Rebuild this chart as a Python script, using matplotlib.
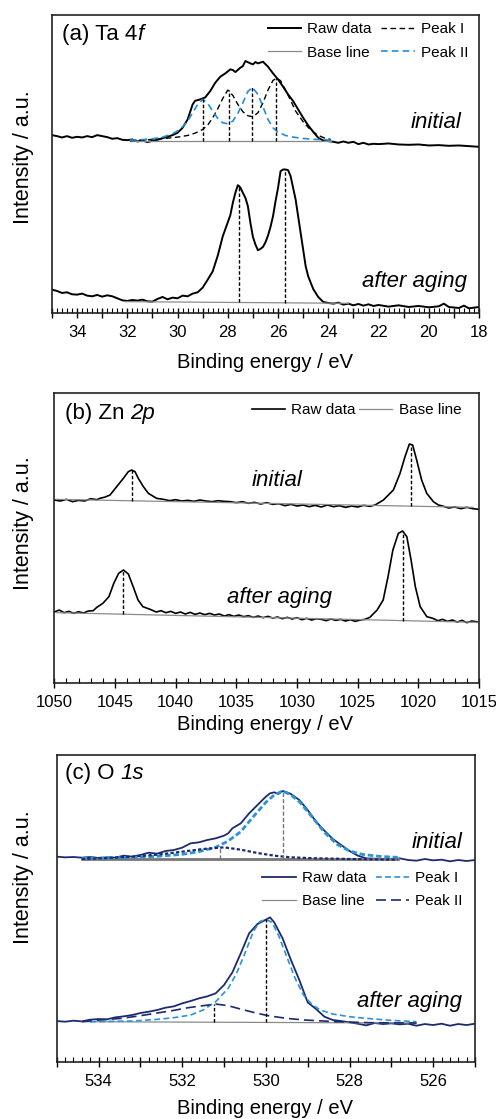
import matplotlib
matplotlib.use("Agg")
import matplotlib.pyplot as plt
from matplotlib.ticker import MultipleLocator, FuncFormatter

plt.rcParams['font.family'] = ['Liberation Sans', 'DejaVu Sans']

# ---------------- (a) Ta 4f ----------------
ta_init_e = [35.0, 34.8, 34.6, 34.4, 34.2, 34.0, 33.8, 33.6, 33.4, 33.2, 33.0, 32.8, 32.6, 32.4,
             32.2, 32.0, 31.8, 31.6, 31.4, 31.2, 31.0, 30.8, 30.6, 30.4, 30.2, 30.0, 29.8, 29.6,
             29.4, 29.3, 29.1, 28.9, 28.7, 28.5, 28.3, 28.1, 27.9, 27.8, 27.7, 27.5, 27.4, 27.3,
             27.1, 27.0, 26.9, 26.8, 26.6, 26.4, 26.2, 26.0, 25.8, 25.6, 25.4, 25.2, 25.0, 24.8,
             24.6, 24.4, 24.2, 24.0, 23.8, 23.6, 23.4, 23.2, 23.0, 22.8, 22.6, 22.4, 22.2, 22.0,
             21.6, 21.2, 20.8, 20.4, 20.0, 19.6, 19.2, 18.8, 18.4, 18.0]
ta_init_i = [533, 530, 526, 530, 525, 528, 526, 530, 527, 533, 530, 527, 522, 524,
             519, 518, 520, 514, 517, 512, 516, 519, 524, 528, 533, 540, 555, 580,
             625, 636, 640, 646, 665, 690, 708, 718, 730, 728, 722, 735, 740, 755,
             748, 745, 752, 748, 753, 738, 718, 700, 678, 655, 635, 610, 585, 562,
             543, 525, 517, 515, 513, 510, 514, 510, 513, 506, 510, 505, 507, 506,
             508, 505, 504, 505, 502, 503, 501, 502, 500, 498]

ta_peak1_e = [31.9, 31.5, 31.0, 30.5, 30.0, 29.6, 29.3, 29.0, 28.8, 28.6, 28.4, 28.2, 28.0, 27.8,
              27.6, 27.4, 27.2, 27.0, 26.8, 26.6, 26.4, 26.2, 26.05, 25.9, 25.7, 25.5, 25.3,
              25.0, 24.7, 24.4, 24.1, 23.9]
ta_peak1_i = [516, 518, 520, 523, 527, 532, 539, 550, 563, 585, 612, 643, 668, 652,
              625, 603, 591, 588, 600, 630, 668, 697, 704, 696, 668, 637, 605,
              573, 548, 532, 523, 520]
ta_peak2_e = [31.9, 31.5, 31.0, 30.6, 30.2, 29.9, 29.6, 29.4, 29.2, 29.0, 28.8, 28.6, 28.4, 28.2,
              28.0, 27.8, 27.6, 27.4, 27.2, 27.02, 26.8, 26.6, 26.4, 26.2, 26.0, 25.7, 25.4,
              25.0, 24.5, 23.9]
ta_peak2_i = [518, 519, 522, 527, 537, 550, 575, 600, 625, 640, 628, 605, 583, 570,
              567, 575, 598, 630, 664, 676, 655, 618, 580, 555, 542, 532, 527,
              523, 520, 518]
ta_init_base_e = [31.9, 23.9]
ta_init_base_i = [515, 515]
ta_init_pos = [28.97, 27.97, 27.02, 26.07]
ta_init_top = [640, 668, 676, 704]

ta_aged_e = [35.0, 34.8, 34.6, 34.4, 34.2, 34.0, 33.8, 33.6, 33.4, 33.2, 33.0, 32.8, 32.6, 32.4,
             32.2, 32.0, 31.8, 31.6, 31.4, 31.2, 31.0, 30.8, 30.6, 30.4, 30.2, 30.0, 29.8, 29.6,
             29.4, 29.2, 29.0, 28.8, 28.6, 28.4, 28.2, 28.0, 27.9, 27.8, 27.7, 27.6, 27.5, 27.4,
             27.3, 27.2, 27.1, 27.0, 26.9, 26.8, 26.7, 26.6, 26.5, 26.4, 26.3, 26.2, 26.1, 26.0,
             25.9, 25.8, 25.7, 25.6, 25.5, 25.4, 25.3, 25.2, 25.1, 25.0, 24.9, 24.8, 24.6, 24.4,
             24.2, 24.0, 23.8, 23.6, 23.4, 23.2, 23.0, 22.8, 22.6, 22.4, 22.2, 22.0, 21.6, 21.2,
             20.8, 20.4, 20.0, 19.6, 19.4, 19.2, 18.8, 18.6, 18.4, 18.0]
ta_aged_i = [70, 66, 60, 62, 56, 55, 58, 52, 50, 54, 49, 53, 50, 44,
             38, 36, 39, 37, 40, 35, 34, 42, 48, 41, 46, 44, 52, 50,
             58, 62, 76, 100, 125, 172, 230, 272, 293, 330, 360, 383, 376, 360,
             345, 320, 270, 228, 205, 188, 192, 198, 212, 232, 258, 290, 335, 375,
             425, 430, 430, 428, 410, 375, 340, 290, 240, 190, 140, 110, 72, 48,
             33, 30, 28, 31, 25, 28, 23, 27, 22, 26, 21, 24, 19, 23,
             18, 21, 17, 20, 28, 18, 15, 22, 14, 18]
ta_aged_base_e = [32.1, 23.2]
ta_aged_base_i = [34, 29]
ta_aged_pos = [27.57, 25.72]
ta_aged_top = [383, 430]
ta_aged_bot = [32, 30]

# ---------------- (b) Zn 2p ----------------
zn_init_e = [1050.0, 1049.5, 1049.0, 1048.5, 1048.0, 1047.5, 1047.0, 1046.5, 1046.24, 1045.8,
             1045.41, 1044.86, 1044.31, 1043.9, 1043.63, 1043.35, 1043.08, 1042.66, 1042.25,
             1041.57, 1041.0, 1040.5, 1040.0, 1039.5, 1039.0, 1038.5, 1038.0, 1037.5, 1037.0,
             1036.5, 1036.0, 1035.5, 1035.0, 1034.5, 1034.0, 1033.5, 1033.0, 1032.5, 1032.0,
             1031.5, 1031.0, 1030.5, 1030.0, 1029.5, 1029.0, 1028.5, 1028.0, 1027.5, 1027.0,
             1026.5, 1026.0, 1025.5, 1025.0, 1024.5, 1024.0, 1023.57, 1022.88, 1022.06,
             1021.51, 1021.1, 1020.74, 1020.47, 1020.14, 1019.73, 1019.31, 1018.76, 1018.35,
             1018.0, 1017.5, 1017.0, 1016.5, 1016.0, 1015.5, 1015.0]
zn_init_i = [548, 545, 550, 543, 547, 545, 552, 549, 553, 557,
             563, 588, 613, 633, 638, 633, 613, 588, 568,
             553, 550, 546, 549, 545, 547, 544, 548, 545, 543,
             546, 544, 543, 540, 543, 538, 541, 536, 540, 535,
             537, 531, 535, 530, 533, 528, 532, 527, 533, 528,
             531, 526, 530, 527, 532, 529, 533, 548, 578,
             628, 678, 716, 713, 668, 608, 568, 543, 533,
             530, 524, 527, 522, 526, 522, 520]
zn_init_base_e = [1049.8, 1015.5]
zn_init_base_i = [550, 526]
zn_init_pos = [1043.63, 1020.6]
zn_init_top = [638, 715]
zn_init_bot = [546, 530]

zn_aged_e = [1050.0, 1049.6, 1049.2, 1048.8, 1048.4, 1048.0, 1047.6, 1047.2, 1046.8, 1046.5,
             1046.0, 1045.5, 1045.1, 1044.7, 1044.3, 1043.9, 1043.5, 1043.1, 1042.7, 1042.1,
             1041.6, 1041.2, 1040.8, 1040.4, 1040.0, 1039.6, 1039.2, 1038.8, 1038.4, 1038.0,
             1037.6, 1037.2, 1036.8, 1036.4, 1036.0, 1035.6, 1035.2, 1034.8, 1034.4, 1034.0,
             1033.6, 1033.2, 1032.8, 1032.4, 1032.0, 1031.6, 1031.2, 1030.8, 1030.4, 1030.0,
             1029.6, 1029.2, 1028.8, 1028.4, 1028.0, 1027.6, 1027.2, 1026.8, 1026.4, 1026.0,
             1025.6, 1025.2, 1024.8, 1024.4, 1024.0, 1023.4, 1022.9, 1022.5, 1022.1, 1021.65,
             1021.3, 1020.95, 1020.6, 1020.25, 1019.85, 1019.3, 1018.8, 1018.4, 1018.0, 1017.6,
             1017.2, 1016.8, 1016.4, 1016.0, 1015.6, 1015.2, 1015.0]
zn_aged_i = [212, 218, 210, 214, 208, 213, 209, 215, 216, 226,
             238, 258, 298, 328, 338, 326, 288, 248, 228, 220,
             212, 216, 210, 214, 208, 212, 206, 211, 205, 209,
             204, 208, 203, 206, 200, 204, 199, 203, 198, 201,
             196, 200, 195, 199, 194, 197, 192, 196, 191, 195,
             189, 193, 188, 192, 190, 186, 191, 187, 190, 185,
             189, 184, 188, 190, 196, 218, 248, 318, 398, 448,
             455, 438, 368, 288, 228, 198, 193, 186, 190, 184,
             188, 182, 187, 180, 185, 183, 180]
zn_aged_base_e = [1049.8, 1015.0]
zn_aged_base_i = [210, 181]
zn_aged_pos = [1044.3, 1021.3]
zn_aged_top = [338, 455]
zn_aged_bot = [205, 186]

# ---------------- (c) O 1s ----------------
o_init_e = [535.0, 534.8, 534.6, 534.4, 534.2, 534.0, 533.8, 533.6, 533.4, 533.2, 533.0, 532.8,
            532.6, 532.4, 532.2, 532.0, 531.8, 531.6, 531.4, 531.2, 531.0, 530.9, 530.8, 530.6,
            530.4, 530.2, 530.0, 529.9, 529.8, 529.7, 529.6, 529.5, 529.4, 529.2, 529.0, 528.8,
            528.6, 528.4, 528.2, 528.0, 527.8, 527.6, 527.4, 527.2, 527.0, 526.8, 526.6, 526.4,
            526.2, 526.0, 525.8, 525.6, 525.4, 525.2, 525.0]
o_init_i = [615, 613, 614, 612, 614, 611, 613, 612, 618, 615, 620, 627,
            624, 632, 635, 642, 655, 658, 665, 670, 678, 685, 700, 715,
            745, 770, 795, 805, 808, 803, 812, 808, 803, 785, 755, 720,
            693, 668, 650, 632, 618, 610, 609, 607, 608, 610, 605, 603,
            608, 604, 606, 601, 605, 602, 605]
o_init_p1_e = [534.4, 533.8, 533.2, 532.6, 532.0, 531.6, 531.2, 530.9, 530.6, 530.3, 530.0,
               529.8, 529.6, 529.4, 529.2, 528.9, 528.6, 528.3, 528.0, 527.7, 527.3, 526.85]
o_init_p1_i = [610, 611, 613, 616, 622, 630, 643, 662, 690, 735, 778,
               800, 812, 800, 780, 735, 688, 652, 632, 622, 616, 613]
o_init_p2_e = [534.4, 533.8, 533.2, 532.6, 532.0, 531.5, 531.0, 530.6, 530.2, 529.8, 529.4,
               528.8, 528.0, 526.85]
o_init_p2_i = [608, 611, 615, 621, 630, 638, 643, 636, 626, 618, 613,
               610, 608, 606]
o_init_base_e = [534.4, 526.85]
o_init_base_i = [607, 607]
o_init_pos = [531.1, 529.6]
o_init_top = [643, 812]

o_aged_e = [535.0, 534.8, 534.6, 534.4, 534.2, 534.0, 533.8, 533.6, 533.4, 533.2, 533.0, 532.8,
            532.6, 532.4, 532.2, 532.0, 531.8, 531.6, 531.4, 531.2, 531.0, 530.8, 530.6, 530.4,
            530.2, 530.0, 529.9, 529.8, 529.6, 529.4, 529.2, 529.0, 528.8, 528.6, 528.4, 528.2,
            528.0, 527.8, 527.6, 527.4, 527.2, 527.0, 526.8, 526.6, 526.4, 526.2, 526.0, 525.8,
            525.6, 525.4, 525.2, 525.0]
o_aged_i = [122, 120, 123, 121, 126, 128, 127, 133, 136, 140, 146, 150,
            155, 162, 166, 175, 182, 190, 196, 205, 230, 268, 325, 385,
            413, 426, 433, 418, 370, 305, 245, 178, 158, 135, 125, 122,
            118, 114, 109, 116, 113, 115, 112, 114, 108, 113, 110, 114,
            108, 113, 110, 114]
o_aged_p1_e = [534.2, 533.2, 532.6, 532.2, 531.8, 531.5, 531.2, 530.9, 530.7, 530.5, 530.3,
               530.15, 530.0, 529.85, 529.7, 529.5, 529.3, 529.1, 528.9, 528.7, 528.4, 528.0,
               527.6, 527.0, 526.4]
o_aged_p1_i = [120, 122, 127, 132, 140, 155, 180, 220, 265, 325, 390,
               420, 427, 418, 380, 315, 250, 200, 172, 155, 143, 135,
               130, 124, 120]
o_aged_p2_e = [534.4, 534.0, 533.45, 533.0, 532.65, 532.2, 531.86, 531.5, 531.2, 530.9, 530.58,
               530.2, 529.9, 529.5, 529.07, 528.3, 527.5, 526.4]
o_aged_p2_i = [120, 125, 130, 138, 145, 154, 162, 168, 173, 168, 157,
               145, 137, 130, 125, 120, 117, 116]
o_aged_base_e = [534.4, 526.4]
o_aged_base_i = [120, 116]
o_aged_pos = [531.25, 530.0]
o_aged_top = [172, 427]
o_aged_bot = [119, 118]

navy = '#1c2a6e'
lblue = '#2a93d9'
tblue = '#1f8fd6'
gray = '#8a8a8a'

fig = plt.figure(figsize=(4.96, 11.19), dpi=100)
ax_a = fig.add_axes([0.1048, 0.7203, 0.8609, 0.2663])
ax_b = fig.add_axes([0.1095, 0.3899, 0.8563, 0.2586])
ax_c = fig.add_axes([0.1143, 0.0512, 0.8434, 0.2741])


def even_only(x, pos):
    if abs(x - round(x)) < 1e-6 and int(round(x)) % 2 == 0:
        return "%d" % round(x)
    return ""


def style_axis(ax, xlim, ylim, major, minor, fmt, ylab_y, xlab_y):
    ax.set_xlim(*xlim)
    ax.set_ylim(*ylim)
    ax.set_yticks([])
    ax.xaxis.set_major_locator(MultipleLocator(major))
    ax.xaxis.set_minor_locator(MultipleLocator(minor))
    if fmt is not None:
        ax.xaxis.set_major_formatter(FuncFormatter(fmt))
    ax.tick_params(axis='x', which='major', direction='inout', length=7, width=1.0,
                   labelsize=12, pad=5)
    ax.tick_params(axis='x', which='minor', direction='in', length=3.5, width=0.8)
    for s in ax.spines.values():
        s.set_linewidth(1.2)
        s.set_color('#222222')
    ax.set_ylabel("Intensity / a.u.", fontsize=15.5, va='center')
    ax.yaxis.set_label_coords(23 / 496, ylab_y, transform=fig.transFigure)
    ax.set_xlabel("Binding energy / eV", fontsize=14.5, va='center')
    ax.xaxis.set_label_coords(0.535, xlab_y, transform=fig.transFigure)


def panel_label(ax, x, y, head, tail):
    # upright part, then the italic orbital name right after it
    t = ax.text(x, y, head, transform=ax.transAxes, fontsize=16, ha='left', va='center')
    ax.annotate(tail, xy=(1, 0), xycoords=t, fontsize=16, style='italic',
                ha='left', va='bottom')


def vlines(ax, pos, bot, top, color, ls):
    for p, b, t in zip(pos, bot, top):
        ax.plot([p, p], [b, t], color=color, lw=1.0, dashes=ls)


# panel (a)
ax_a.plot(ta_init_e, ta_init_i, color='black', lw=1.4, label='Raw data')
ax_a.plot(ta_init_base_e, ta_init_base_i, color=gray, lw=0.9, label='Base line')
ax_a.plot(ta_peak1_e, ta_peak1_i, color='black', lw=1.0, dashes=(4, 2.5), label='Peak I')
ax_a.plot(ta_peak2_e, ta_peak2_i, color=tblue, lw=1.2, dashes=(4, 2.5), label='Peak II')
vlines(ax_a, ta_init_pos, [515] * len(ta_init_pos), ta_init_top, 'black', (2.5, 1.5))
ax_a.plot(ta_aged_e, ta_aged_i, color='black', lw=1.4)
ax_a.plot(ta_aged_base_e, ta_aged_base_i, color=gray, lw=0.9)
vlines(ax_a, ta_aged_pos, ta_aged_bot, ta_aged_top, 'black', (2.5, 1.5))
style_axis(ax_a, (35, 18), (0, 893), 1, 0.2, even_only, 1 - 157 / 1119, 1 - 362 / 1119)
ax_a.legend(ncol=2, loc='upper right', bbox_to_anchor=(0.975, 0.975), frameon=False,
            fontsize=11, handlelength=2.2, handletextpad=0.4, columnspacing=0.6,
            labelspacing=0.6, borderpad=0, borderaxespad=0)
panel_label(ax_a, 0.023, 0.933, "(a) Ta 4", "f")
ax_a.text(0.960, 0.638, "initial", transform=ax_a.transAxes, fontsize=16,
          style='italic', ha='right', va='center')
ax_a.text(0.972, 0.104, "after aging", transform=ax_a.transAxes, fontsize=16,
          style='italic', ha='right', va='center')

# panel (b)
ax_b.plot(zn_init_e, zn_init_i, color='black', lw=1.2, label='Raw data')
ax_b.plot(zn_init_base_e, zn_init_base_i, color=gray, lw=0.9, label='Base line')
vlines(ax_b, zn_init_pos, zn_init_bot, zn_init_top, 'black', (2.5, 1.5))
ax_b.plot(zn_aged_e, zn_aged_i, color='black', lw=1.2)
ax_b.plot(zn_aged_base_e, zn_aged_base_i, color=gray, lw=0.9)
vlines(ax_b, zn_aged_pos, zn_aged_bot, zn_aged_top, 'black', (2.5, 1.5))
style_axis(ax_b, (1050, 1015), (0, 868), 5, 1, None, 1 - 523 / 1119, 1 - 724 / 1119)
ax_b.legend(ncol=2, loc='upper right', bbox_to_anchor=(0.958, 0.966), frameon=False,
            fontsize=11, handlelength=2.2, handletextpad=0.4, columnspacing=0.2,
            borderpad=0, borderaxespad=0)
panel_label(ax_b, 0.025, 0.932, "(b) Zn ", "2p")
ax_b.text(0.524, 0.700, "initial", transform=ax_b.transAxes, fontsize=16,
          style='italic', ha='center', va='center')
ax_b.text(0.531, 0.293, "after aging", transform=ax_b.transAxes, fontsize=16,
          style='italic', ha='center', va='center')

# panel (c)
ax_c.plot(o_init_e, o_init_i, color=navy, lw=1.3)
ax_c.plot(o_init_base_e, o_init_base_i, color='#777777', lw=2.0)
ax_c.plot(o_init_p1_e, o_init_p1_i, color=lblue, lw=2.0, dashes=(2, 1))
ax_c.plot(o_init_p2_e, o_init_p2_i, color=navy, lw=1.6, dashes=(1.5, 1))
vlines(ax_c, o_init_pos, [607] * len(o_init_pos), o_init_top, '#777777', (3, 1.5))
ax_c.plot(o_aged_e, o_aged_i, color=navy, lw=1.3, label='Raw data')
ax_c.plot(o_aged_base_e, o_aged_base_i, color=gray, lw=0.9, label='Base line')
ax_c.plot(o_aged_p1_e, o_aged_p1_i, color=lblue, lw=1.2, dashes=(3.5, 2), label='Peak I')
ax_c.plot(o_aged_p2_e, o_aged_p2_i, color=navy, lw=1.2, dashes=(6, 3), label='Peak II')
vlines(ax_c, o_aged_pos, o_aged_bot, o_aged_top, 'black', (2.5, 1.5))
style_axis(ax_c, (535, 525), (0, 920), 1, 0.2, even_only, 1 - 877 / 1119, 1 - 1108 / 1119)
ax_c.legend(ncol=2, loc='upper right', bbox_to_anchor=(0.971, 0.622), frameon=False,
            fontsize=11, handlelength=2.2, handletextpad=0.4, columnspacing=0.6,
            labelspacing=0.6, borderpad=0, borderaxespad=0)
panel_label(ax_c, 0.020, 0.941, "(c) O ", "1s")
ax_c.text(0.971, 0.716, "initial", transform=ax_c.transAxes, fontsize=16,
          style='italic', ha='right', va='center')
ax_c.text(0.969, 0.195, "after aging", transform=ax_c.transAxes, fontsize=16,
          style='italic', ha='right', va='center')

fig.savefig("out.png", dpi=100)
